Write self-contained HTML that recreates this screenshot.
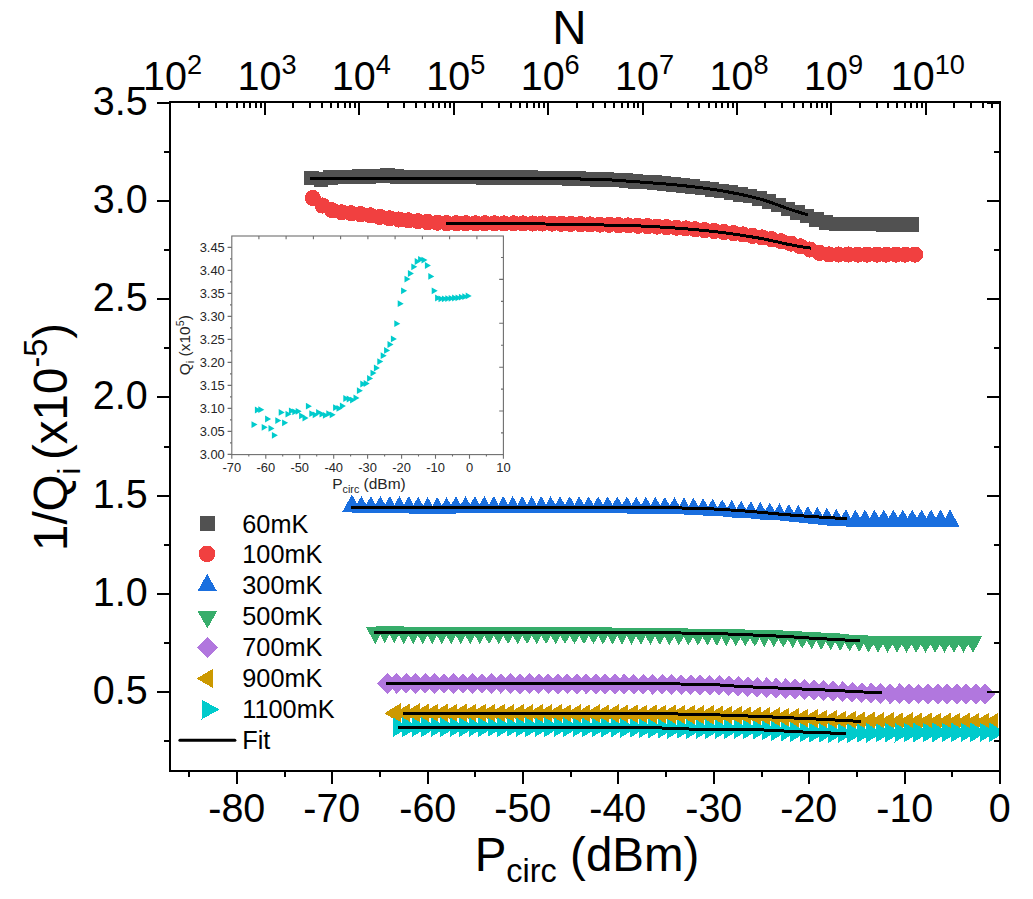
<!DOCTYPE html>
<html lang="en">
<head>
<meta charset="utf-8">
<title>1/Qi vs Pcirc</title>
<style>html,body{margin:0;padding:0;background:#fff}body{width:1033px;height:899px;overflow:hidden}svg{display:block}text{white-space:pre}</style>
</head>
<body>
<svg width="1033" height="899" viewBox="0 0 1033 899" font-family='"Liberation Sans", Arial, sans-serif' fill="#000">
<rect width="1033" height="899" fill="#fff"/>
<defs><clipPath id="fc"><rect x="170" y="102" width="830" height="669"/></clipPath></defs>
<g clip-path="url(#fc)" shape-rendering="crispEdges">
<path d="M304.1 170.8h14.5v14.5h-14.5zM313.6 172.3h14.5v14.5h-14.5zM323.1 170.4h14.5v14.5h-14.5zM332.7 169.9h14.5v14.5h-14.5zM342.2 169.6h14.5v14.5h-14.5zM351.7 169.3h14.5v14.5h-14.5zM361.3 169h14.5v14.5h-14.5zM370.8 168.5h14.5v14.5h-14.5zM380.3 168.4h14.5v14.5h-14.5zM389.9 169.1h14.5v14.5h-14.5zM399.4 169.5h14.5v14.5h-14.5zM408.9 169.6h14.5v14.5h-14.5zM418.5 169.6h14.5v14.5h-14.5zM428 169.7h14.5v14.5h-14.5zM437.5 169.7h14.5v14.5h-14.5zM447.1 169.8h14.5v14.5h-14.5zM456.6 169.9h14.5v14.5h-14.5zM466.1 169.9h14.5v14.5h-14.5zM475.7 170h14.5v14.5h-14.5zM485.2 170.1h14.5v14.5h-14.5zM494.7 170.1h14.5v14.5h-14.5zM504.3 170.2h14.5v14.5h-14.5zM513.8 170.3h14.5v14.5h-14.5zM523.4 170.4h14.5v14.5h-14.5zM532.9 170.6h14.5v14.5h-14.5zM542.4 170.7h14.5v14.5h-14.5zM552 170.9h14.5v14.5h-14.5zM561.5 171.1h14.5v14.5h-14.5zM571 171.4h14.5v14.5h-14.5zM580.6 171.6h14.5v14.5h-14.5zM590.1 172h14.5v14.5h-14.5zM599.6 172.3h14.5v14.5h-14.5zM609.2 172.8h14.5v14.5h-14.5zM618.7 173.4h14.5v14.5h-14.5zM628.2 174h14.5v14.5h-14.5zM637.8 174.7h14.5v14.5h-14.5zM647.3 175.4h14.5v14.5h-14.5zM656.8 176.2h14.5v14.5h-14.5zM666.4 177.1h14.5v14.5h-14.5zM675.9 178.1h14.5v14.5h-14.5zM685.4 179.3h14.5v14.5h-14.5zM695 180.7h14.5v14.5h-14.5zM704.5 182.2h14.5v14.5h-14.5zM714.1 183.7h14.5v14.5h-14.5zM723.6 185.3h14.5v14.5h-14.5zM733.1 187h14.5v14.5h-14.5zM742.7 188.9h14.5v14.5h-14.5zM752.2 191.1h14.5v14.5h-14.5zM761.7 194h14.5v14.5h-14.5zM771.3 197.7h14.5v14.5h-14.5zM780.8 201.5h14.5v14.5h-14.5zM790.3 205.2h14.5v14.5h-14.5zM799.9 208.9h14.5v14.5h-14.5zM809.4 212.3h14.5v14.5h-14.5zM818.9 215.3h14.5v14.5h-14.5zM828.5 216.6h14.5v14.5h-14.5zM838 216.7h14.5v14.5h-14.5zM847.5 216.8h14.5v14.5h-14.5zM857.1 216.8h14.5v14.5h-14.5zM866.6 216.9h14.5v14.5h-14.5zM876.1 217h14.5v14.5h-14.5zM885.7 217.1h14.5v14.5h-14.5zM895.2 217.3h14.5v14.5h-14.5zM904.8 217.4h14.5v14.5h-14.5z" fill="#515151"/>
<path d="M304.8 198.1a8.1 8.1 0 1 0 16.2 0a8.1 8.1 0 1 0 -16.2 0zM314.4 205.6a8.1 8.1 0 1 0 16.2 0a8.1 8.1 0 1 0 -16.2 0zM323.9 210.2a8.1 8.1 0 1 0 16.2 0a8.1 8.1 0 1 0 -16.2 0zM333.5 212.3a8.1 8.1 0 1 0 16.2 0a8.1 8.1 0 1 0 -16.2 0zM343 213.3a8.1 8.1 0 1 0 16.2 0a8.1 8.1 0 1 0 -16.2 0zM352.6 214.1a8.1 8.1 0 1 0 16.2 0a8.1 8.1 0 1 0 -16.2 0zM362.1 215.3a8.1 8.1 0 1 0 16.2 0a8.1 8.1 0 1 0 -16.2 0zM371.7 216.9a8.1 8.1 0 1 0 16.2 0a8.1 8.1 0 1 0 -16.2 0zM381.3 218.3a8.1 8.1 0 1 0 16.2 0a8.1 8.1 0 1 0 -16.2 0zM390.8 219.5a8.1 8.1 0 1 0 16.2 0a8.1 8.1 0 1 0 -16.2 0zM400.4 220.4a8.1 8.1 0 1 0 16.2 0a8.1 8.1 0 1 0 -16.2 0zM409.9 221.2a8.1 8.1 0 1 0 16.2 0a8.1 8.1 0 1 0 -16.2 0zM419.5 222a8.1 8.1 0 1 0 16.2 0a8.1 8.1 0 1 0 -16.2 0zM429 222.7a8.1 8.1 0 1 0 16.2 0a8.1 8.1 0 1 0 -16.2 0zM438.6 223.1a8.1 8.1 0 1 0 16.2 0a8.1 8.1 0 1 0 -16.2 0zM448.2 223.2a8.1 8.1 0 1 0 16.2 0a8.1 8.1 0 1 0 -16.2 0zM457.7 223.2a8.1 8.1 0 1 0 16.2 0a8.1 8.1 0 1 0 -16.2 0zM467.3 223.3a8.1 8.1 0 1 0 16.2 0a8.1 8.1 0 1 0 -16.2 0zM476.8 223.3a8.1 8.1 0 1 0 16.2 0a8.1 8.1 0 1 0 -16.2 0zM486.4 223.3a8.1 8.1 0 1 0 16.2 0a8.1 8.1 0 1 0 -16.2 0zM495.9 223.4a8.1 8.1 0 1 0 16.2 0a8.1 8.1 0 1 0 -16.2 0zM505.5 223.4a8.1 8.1 0 1 0 16.2 0a8.1 8.1 0 1 0 -16.2 0zM515.1 223.4a8.1 8.1 0 1 0 16.2 0a8.1 8.1 0 1 0 -16.2 0zM524.6 223.5a8.1 8.1 0 1 0 16.2 0a8.1 8.1 0 1 0 -16.2 0zM534.2 223.5a8.1 8.1 0 1 0 16.2 0a8.1 8.1 0 1 0 -16.2 0zM543.7 223.6a8.1 8.1 0 1 0 16.2 0a8.1 8.1 0 1 0 -16.2 0zM553.3 223.8a8.1 8.1 0 1 0 16.2 0a8.1 8.1 0 1 0 -16.2 0zM562.8 223.9a8.1 8.1 0 1 0 16.2 0a8.1 8.1 0 1 0 -16.2 0zM572.4 224.1a8.1 8.1 0 1 0 16.2 0a8.1 8.1 0 1 0 -16.2 0zM582 224.4a8.1 8.1 0 1 0 16.2 0a8.1 8.1 0 1 0 -16.2 0zM591.5 224.6a8.1 8.1 0 1 0 16.2 0a8.1 8.1 0 1 0 -16.2 0zM601.1 224.8a8.1 8.1 0 1 0 16.2 0a8.1 8.1 0 1 0 -16.2 0zM610.6 225.1a8.1 8.1 0 1 0 16.2 0a8.1 8.1 0 1 0 -16.2 0zM620.2 225.4a8.1 8.1 0 1 0 16.2 0a8.1 8.1 0 1 0 -16.2 0zM629.7 225.8a8.1 8.1 0 1 0 16.2 0a8.1 8.1 0 1 0 -16.2 0zM639.3 226.2a8.1 8.1 0 1 0 16.2 0a8.1 8.1 0 1 0 -16.2 0zM648.9 226.6a8.1 8.1 0 1 0 16.2 0a8.1 8.1 0 1 0 -16.2 0zM658.4 227.2a8.1 8.1 0 1 0 16.2 0a8.1 8.1 0 1 0 -16.2 0zM668 227.7a8.1 8.1 0 1 0 16.2 0a8.1 8.1 0 1 0 -16.2 0zM677.5 228.4a8.1 8.1 0 1 0 16.2 0a8.1 8.1 0 1 0 -16.2 0zM687.1 229.2a8.1 8.1 0 1 0 16.2 0a8.1 8.1 0 1 0 -16.2 0zM696.6 230.1a8.1 8.1 0 1 0 16.2 0a8.1 8.1 0 1 0 -16.2 0zM706.2 231a8.1 8.1 0 1 0 16.2 0a8.1 8.1 0 1 0 -16.2 0zM715.8 232.1a8.1 8.1 0 1 0 16.2 0a8.1 8.1 0 1 0 -16.2 0zM725.3 233.2a8.1 8.1 0 1 0 16.2 0a8.1 8.1 0 1 0 -16.2 0zM734.9 234.4a8.1 8.1 0 1 0 16.2 0a8.1 8.1 0 1 0 -16.2 0zM744.4 235.8a8.1 8.1 0 1 0 16.2 0a8.1 8.1 0 1 0 -16.2 0zM754 237.4a8.1 8.1 0 1 0 16.2 0a8.1 8.1 0 1 0 -16.2 0zM763.5 239.2a8.1 8.1 0 1 0 16.2 0a8.1 8.1 0 1 0 -16.2 0zM773.1 241.2a8.1 8.1 0 1 0 16.2 0a8.1 8.1 0 1 0 -16.2 0zM782.7 243.6a8.1 8.1 0 1 0 16.2 0a8.1 8.1 0 1 0 -16.2 0zM792.2 246.3a8.1 8.1 0 1 0 16.2 0a8.1 8.1 0 1 0 -16.2 0zM801.8 249.5a8.1 8.1 0 1 0 16.2 0a8.1 8.1 0 1 0 -16.2 0zM811.3 252.9a8.1 8.1 0 1 0 16.2 0a8.1 8.1 0 1 0 -16.2 0zM820.9 254.5a8.1 8.1 0 1 0 16.2 0a8.1 8.1 0 1 0 -16.2 0zM830.4 254.5a8.1 8.1 0 1 0 16.2 0a8.1 8.1 0 1 0 -16.2 0zM840 254.5a8.1 8.1 0 1 0 16.2 0a8.1 8.1 0 1 0 -16.2 0zM849.6 254.6a8.1 8.1 0 1 0 16.2 0a8.1 8.1 0 1 0 -16.2 0zM859.1 254.6a8.1 8.1 0 1 0 16.2 0a8.1 8.1 0 1 0 -16.2 0zM868.7 254.6a8.1 8.1 0 1 0 16.2 0a8.1 8.1 0 1 0 -16.2 0zM878.2 254.6a8.1 8.1 0 1 0 16.2 0a8.1 8.1 0 1 0 -16.2 0zM887.8 254.6a8.1 8.1 0 1 0 16.2 0a8.1 8.1 0 1 0 -16.2 0zM897.3 254.6a8.1 8.1 0 1 0 16.2 0a8.1 8.1 0 1 0 -16.2 0zM906.9 254.6a8.1 8.1 0 1 0 16.2 0a8.1 8.1 0 1 0 -16.2 0z" fill="#F14040"/>
<path d="M351.9 494.5L361.3 511.5H342.5zM361.4 496L370.8 513H352zM370.9 496L380.3 513H361.5zM380.4 496L389.8 513H371zM389.8 496.1L399.2 513.1H380.4zM399.3 496.1L408.7 513.1H389.9zM408.8 496.1L418.2 513.1H399.4zM418.2 496.6L427.6 513.6H408.8zM427.7 497.1L437.1 514.1H418.3zM437.2 497.1L446.6 514.1H427.8zM446.6 497.1L456 514.1H437.2zM456 496.2L465.4 513.2H446.6zM465.5 496.2L474.9 513.2H456.1zM474.9 496.1L484.3 513.1H465.5zM484.3 496.1L493.7 513.1H474.9zM493.8 496.1L503.2 513.1H484.4zM503.2 496.1L512.6 513.1H493.8zM512.7 496.1L522.1 513.1H503.3zM522.2 496.1L531.6 513.1H512.8zM531.7 496.1L541.1 513.1H522.3zM541.2 496.1L550.6 513.1H531.8zM550.6 496.2L560 513.2H541.2zM560.1 496.2L569.5 513.2H550.7zM569.7 496.2L579.1 513.2H560.3zM579.2 496.2L588.6 513.2H569.8zM588.7 496.3L598.1 513.3H579.3zM598.2 496.3L607.6 513.3H588.8zM607.7 496.3L617.1 513.3H598.3zM617.3 496.4L626.7 513.4H607.9zM626.8 496.4L636.2 513.4H617.4zM636.3 496.5L645.7 513.5H626.9zM645.8 496.6L655.2 513.6H636.4zM655.4 496.7L664.8 513.7H646zM664.9 496.9L674.3 513.9H655.5zM674.5 497.1L683.9 514.1H665.1zM684 497.4L693.4 514.4H674.6zM693.5 497.7L702.9 514.7H684.1zM703.1 498.1L712.5 515.1H693.7zM712.6 498.6L722 515.6H703.2zM722.2 499.3L731.6 516.3H712.8zM731.7 499.9L741.1 516.9H722.3zM741.2 500.6L750.6 517.6H731.8zM750.8 501.2L760.2 518.2H741.4zM760.3 501.8L769.7 518.8H750.9zM769.8 502.5L779.2 519.5H760.4zM779.4 503.2L788.8 520.2H770zM788.9 503.9L798.3 520.9H779.5zM798.4 504.8L807.8 521.8H789zM807.9 505.8L817.3 522.8H798.5zM817.4 506.8L826.8 523.8H808zM826.9 507.7L836.3 524.7H817.5zM836.4 508.7L845.8 525.7H827zM845.9 509.2L855.3 526.2H836.5zM855.4 509.5L864.8 526.5H846zM864.9 509.5L874.3 526.5H855.5zM874.4 509.5L883.8 526.5H865zM883.8 509.5L893.2 526.5H874.4zM893.3 509.5L902.7 526.5H883.9zM902.8 509.5L912.2 526.5H893.4zM912.2 509.5L921.6 526.5H902.8zM921.7 509.5L931.1 526.5H912.3zM931.1 509.5L940.5 526.5H921.7zM940.6 509.5L950 526.5H931.2zM950 509.5L959.4 526.5H940.6z" fill="#1A6FDF"/>
<path d="M375.3 644L384.7 627H365.9zM384.8 643.2L394.2 626.2H375.4zM394.3 643.2L403.7 626.2H384.9zM403.8 644.1L413.2 627.1H394.4zM413.2 644.1L422.6 627.1H403.8zM422.7 644.1L432.1 627.1H413.3zM432.2 644.1L441.6 627.1H422.8zM441.7 644.1L451.1 627.1H432.3zM451.2 644.2L460.6 627.2H441.8zM460.7 644.2L470.1 627.2H451.3zM470.2 644.2L479.6 627.2H460.8zM479.7 644.2L489.1 627.2H470.3zM489.1 644.2L498.5 627.2H479.7zM498.6 644.2L508 627.2H489.2zM508.1 644.2L517.5 627.2H498.7zM517.6 644.2L527 627.2H508.2zM527.1 644.2L536.5 627.2H517.7zM536.6 644.2L546 627.2H527.2zM546.1 644.2L555.5 627.2H536.7zM555.6 644.2L565 627.2H546.2zM565 644.2L574.4 627.2H555.6zM574.5 644.2L583.9 627.2H565.1zM584 644.3L593.4 627.3H574.6zM593.5 644.3L602.9 627.3H584.1zM603 644.4L612.4 627.4H593.6zM612.5 644.5L621.9 627.5H603.1zM622 644.6L631.4 627.6H612.6zM631.5 644.7L640.9 627.7H622.1zM640.9 644.8L650.3 627.8H631.5zM650.4 644.9L659.8 627.9H641zM659.9 645L669.3 628H650.5zM669.4 645.2L678.8 628.2H660zM678.9 645.3L688.3 628.3H669.5zM688.4 645.5L697.8 628.5H679zM697.9 645.6L707.3 628.6H688.5zM707.4 645.7L716.8 628.7H698zM716.8 645.9L726.2 628.9H707.4zM726.3 646.1L735.7 629.1H716.9zM735.8 646.3L745.2 629.3H726.4zM745.3 646.5L754.7 629.5H735.9zM754.8 646.7L764.2 629.7H745.4zM764.3 647L773.7 630H754.9zM773.8 647.3L783.2 630.3H764.4zM783.3 647.6L792.7 630.6H773.9zM792.7 648.1L802.1 631.1H783.3zM802.2 648.7L811.6 631.7H792.8zM811.7 649.3L821.1 632.3H802.3zM821.2 649.9L830.6 632.9H811.8zM830.7 650.4L840.1 633.4H821.3zM840.2 651L849.6 634H830.8zM849.7 651.5L859.1 634.5H840.3zM859.2 652L868.6 635H849.8zM868.6 652.6L878 635.6H859.2zM878.1 652.8L887.5 635.8H868.7zM887.6 652.8L897 635.8H878.2zM897.1 652.8L906.5 635.8H887.7zM906.6 652.9L916 635.9H897.2zM916.1 652.9L925.5 635.9H906.7zM925.6 652.9L935 635.9H916.2zM935.1 652.9L944.5 635.9H925.7zM944.5 652.9L953.9 635.9H935.1zM954 652.9L963.4 635.9H944.6zM963.5 652.9L972.9 635.9H954.1zM973 652.9L982.4 635.9H963.6z" fill="#37AD6B"/>
<path d="M387.3 673L397.6 683.4L387.3 693.8L377 683.4zM396.8 673L407.1 683.4L396.8 693.8L386.5 683.4zM406.2 673L416.5 683.4L406.2 693.8L395.9 683.4zM415.7 673L426 683.4L415.7 693.8L405.4 683.4zM425.2 673L435.5 683.4L425.2 693.8L414.9 683.4zM434.7 673L445 683.4L434.7 693.8L424.4 683.4zM444.1 673.1L454.4 683.5L444.1 693.9L433.8 683.5zM453.6 673.1L463.9 683.5L453.6 693.9L443.3 683.5zM463.1 673.1L473.4 683.5L463.1 693.9L452.8 683.5zM472.6 673.1L482.9 683.5L472.6 693.9L462.3 683.5zM482 673.1L492.3 683.5L482 693.9L471.7 683.5zM491.5 673.2L501.8 683.6L491.5 694L481.2 683.6zM501 673.2L511.3 683.6L501 694L490.7 683.6zM510.5 673.2L520.8 683.6L510.5 694L500.2 683.6zM520 673.3L530.3 683.7L520 694.1L509.7 683.7zM529.4 673.3L539.7 683.7L529.4 694.1L519.1 683.7zM538.9 673.3L549.2 683.7L538.9 694.1L528.6 683.7zM548.4 673.4L558.7 683.8L548.4 694.2L538.1 683.8zM557.9 673.4L568.2 683.8L557.9 694.2L547.6 683.8zM567.4 673.4L577.7 683.8L567.4 694.2L557.1 683.8zM576.8 673.5L587.1 683.9L576.8 694.3L566.5 683.9zM586.3 673.5L596.6 683.9L586.3 694.3L576 683.9zM595.8 673.5L606.1 683.9L595.8 694.3L585.5 683.9zM605.3 673.6L615.6 684L605.3 694.4L595 684zM614.8 673.7L625.1 684.1L614.8 694.5L604.5 684.1zM624.3 673.7L634.6 684.1L624.3 694.5L614 684.1zM633.8 673.8L644.1 684.2L633.8 694.6L623.5 684.2zM643.3 673.9L653.6 684.3L643.3 694.7L633 684.3zM652.7 673.9L663 684.3L652.7 694.7L642.4 684.3zM662.2 674L672.5 684.4L662.2 694.8L651.9 684.4zM671.7 674.1L682 684.5L671.7 694.9L661.4 684.5zM681.2 674.3L691.5 684.7L681.2 695.1L670.9 684.7zM690.7 674.4L701 684.8L690.7 695.2L680.4 684.8zM700.2 674.5L710.5 684.9L700.2 695.3L689.9 684.9zM709.7 674.7L720 685.1L709.7 695.5L699.4 685.1zM719.2 675L729.5 685.4L719.2 695.8L708.9 685.4zM728.7 675.5L739 685.9L728.7 696.3L718.4 685.9zM738.2 676L748.5 686.4L738.2 696.8L727.9 686.4zM747.7 676.5L758 686.9L747.7 697.3L737.4 686.9zM757.2 677L767.5 687.4L757.2 697.8L746.9 687.4zM766.6 677.4L776.9 687.8L766.6 698.2L756.3 687.8zM776.1 677.9L786.4 688.3L776.1 698.7L765.8 688.3zM785.6 678.4L795.9 688.8L785.6 699.2L775.3 688.8zM795.1 678.8L805.4 689.2L795.1 699.6L784.8 689.2zM804.6 679.3L814.9 689.7L804.6 700.1L794.3 689.7zM814.1 679.7L824.4 690.1L814.1 700.5L803.8 690.1zM823.6 680.2L833.9 690.6L823.6 701L813.3 690.6zM833.1 680.8L843.4 691.2L833.1 701.6L822.8 691.2zM842.6 681.4L852.9 691.8L842.6 702.2L832.3 691.8zM852.1 682L862.4 692.4L852.1 702.8L841.8 692.4zM861.6 682.5L871.9 692.9L861.6 703.3L851.3 692.9zM871.1 682.9L881.4 693.3L871.1 703.7L860.8 693.3zM880.6 683.2L890.9 693.6L880.6 704L870.3 693.6zM890.1 683.3L900.4 693.7L890.1 704.1L879.8 693.7zM899.6 683.4L909.9 693.8L899.6 704.2L889.3 693.8zM909.1 683.5L919.4 693.9L909.1 704.3L898.8 693.9zM918.6 683.6L928.9 694L918.6 704.4L908.3 694zM928.2 683.6L938.5 694L928.2 704.4L917.9 694zM937.7 683.6L948 694L937.7 704.4L927.4 694zM947.2 683.6L957.5 694L947.2 704.4L936.9 694zM956.7 683.6L967 694L956.7 704.4L946.4 694zM966.2 683.6L976.5 694L966.2 704.4L955.9 694zM975.7 683.6L986 694L975.7 704.4L965.4 694zM985.2 683.6L995.5 694L985.2 704.4L974.9 694z" fill="#B177DE"/>
<path d="M384.3 713.3L400.5 703.4V723.2zM393.8 713.3L410 703.4V723.2zM403.3 713.3L419.5 703.4V723.2zM412.8 713.4L429 703.5V723.3zM422.2 713.4L438.4 703.5V723.3zM431.7 713.4L447.9 703.5V723.3zM441.2 713.5L457.4 703.6V723.4zM450.7 713.5L466.9 703.6V723.4zM460.2 713.5L476.4 703.6V723.4zM469.7 713.6L485.9 703.7V723.5zM479.1 713.6L495.3 703.7V723.5zM488.6 713.7L504.8 703.8V723.6zM498.1 713.7L514.3 703.8V723.6zM507.6 713.8L523.8 703.9V723.7zM517.1 713.8L533.3 703.9V723.7zM526.6 713.9L542.8 704V723.8zM536 713.9L552.2 704V723.8zM545.5 714L561.7 704.1V723.9zM555 714L571.2 704.1V723.9zM564.5 714.1L580.7 704.2V724zM574 714.1L590.2 704.2V724zM583.5 714.2L599.7 704.3V724.1zM593 714.2L609.2 704.3V724.1zM602.4 714.3L618.6 704.4V724.2zM611.9 714.3L628.1 704.4V724.2zM621.4 714.4L637.6 704.5V724.3zM630.9 714.5L647.1 704.6V724.4zM640.4 714.5L656.6 704.6V724.4zM649.9 714.6L666.1 704.7V724.5zM659.3 714.7L675.5 704.8V724.6zM668.8 714.8L685 704.9V724.7zM678.3 714.9L694.5 705V724.8zM687.8 715L704 705.1V724.9zM697.3 715.1L713.5 705.2V725zM706.8 715.3L723 705.4V725.2zM716.2 715.4L732.4 705.5V725.3zM725.7 715.7L741.9 705.8V725.6zM735.2 716L751.4 706.1V725.9zM744.7 716.3L760.9 706.4V726.2zM754.2 716.6L770.4 706.7V726.5zM763.7 717L779.9 707.1V726.9zM773.1 717.4L789.3 707.5V727.3zM782.6 717.8L798.8 707.9V727.7zM792.1 718.4L808.3 708.5V728.3zM801.6 718.9L817.8 709V728.8zM811.1 719.4L827.3 709.5V729.3zM820.6 719.9L836.8 710V729.8zM830.1 720.4L846.3 710.5V730.3zM839.5 720.8L855.7 710.9V730.7zM849 721.2L865.2 711.3V731.1zM858.5 721.5L874.7 711.6V731.4zM868 721.8L884.2 711.9V731.7zM877.5 722L893.7 712.1V731.9zM887 722.1L903.2 712.2V732zM896.4 722.2L912.6 712.3V732.1zM905.9 722.3L922.1 712.4V732.2zM915.4 722.4L931.6 712.5V732.3zM924.9 722.5L941.1 712.6V732.4zM934.4 722.6L950.6 712.7V732.5zM943.9 722.6L960.1 712.7V732.5zM953.3 722.7L969.5 712.8V732.6zM962.8 722.7L979 712.8V732.6zM972.3 722.8L988.5 712.9V732.7zM981.8 722.8L998 712.9V732.7z" fill="#CC9900"/>
<path d="M409.1 727.2L392.9 717.3V737.1zM418.6 727.2L402.4 717.3V737.1zM428 727.2L411.8 717.3V737.1zM437.5 727.2L421.3 717.3V737.1zM447 727.2L430.8 717.3V737.1zM456.4 727.2L440.2 717.3V737.1zM465.9 727.2L449.7 717.3V737.1zM475.3 727.2L459.1 717.3V737.1zM484.8 727.2L468.6 717.3V737.1zM494.3 727.2L478.1 717.3V737.1zM503.7 727.2L487.5 717.3V737.1zM513.2 727.2L497 717.3V737.1zM522.7 727.2L506.5 717.3V737.1zM532.1 727.2L515.9 717.3V737.1zM541.6 727.2L525.4 717.3V737.1zM551.1 727.2L534.9 717.3V737.1zM560.5 727.2L544.3 717.3V737.1zM570 727.2L553.8 717.3V737.1zM579.4 727.2L563.2 717.3V737.1zM588.9 727.3L572.7 717.4V737.2zM598.4 727.4L582.2 717.5V737.3zM607.8 727.5L591.6 717.6V737.4zM617.3 727.6L601.1 717.7V737.5zM626.8 727.8L610.6 717.9V737.7zM636.2 728L620 718.1V737.9zM645.7 728.1L629.5 718.2V738zM655.2 728.3L639 718.4V738.2zM664.6 728.5L648.4 718.6V738.4zM674.1 728.7L657.9 718.8V738.6zM683.5 728.8L667.3 718.9V738.7zM693 729L676.8 719.1V738.9zM702.5 729.1L686.3 719.2V739zM711.9 729.2L695.7 719.3V739.1zM721.4 729.2L705.2 719.3V739.1zM730.9 729.2L714.7 719.3V739.1zM740.3 729.3L724.1 719.4V739.2zM749.8 729.3L733.6 719.4V739.2zM759.2 729.5L743 719.6V739.4zM768.7 729.9L752.5 720V739.8zM778.2 730.4L762 720.5V740.3zM787.6 731L771.4 721.1V740.9zM797.1 731.6L780.9 721.7V741.5zM806.6 732.1L790.4 722.2V742zM816 732.5L799.8 722.6V742.4zM825.5 732.7L809.3 722.8V742.6zM835 732.9L818.8 723V742.8zM844.4 733.1L828.2 723.2V743zM853.9 733.2L837.7 723.3V743.1zM863.3 733.2L847.1 723.3V743.1zM872.8 733.1L856.6 723.2V743zM882.3 732.9L866.1 723V742.8zM891.7 732.8L875.5 722.9V742.7zM901.2 732.7L885 722.8V742.6zM910.7 732.6L894.5 722.7V742.5zM920.1 732.5L903.9 722.6V742.4zM929.6 732.5L913.4 722.6V742.4zM939.1 732.5L922.9 722.6V742.4zM948.5 732.4L932.3 722.5V742.3zM958 732.4L941.8 722.5V742.3zM967.4 732.4L951.2 722.5V742.3zM976.9 732.3L960.7 722.4V742.2zM986.4 732.3L970.2 722.4V742.2zM995.8 732.3L979.6 722.4V742.2zM1005.3 732.3L989.1 722.4V742.2z" fill="#00CBCC"/>
</g>
<g fill="none" stroke="#000" stroke-width="3" stroke-linecap="butt" stroke-linejoin="round" shape-rendering="crispEdges">
<path d="M310 178.5L316.1 178.5L322.1 178.5L328.2 178.5L334.3 178.5L340.4 178.5L346.4 178.5L352.5 178.5L358.6 178.5L364.7 178.5L370.7 178.5L376.8 178.5L382.9 178.5L389 178.5L395 178.5L401.1 178.5L407.2 178.5L413.2 178.5L419.3 178.5L425.4 178.5L431.5 178.5L437.5 178.5L443.6 178.5L449.7 178.5L455.8 178.5L461.8 178.5L467.9 178.5L474 178.5L480 178.5L486.1 178.5L492.2 178.5L498.3 178.5L504.3 178.5L510.4 178.5L516.5 178.5L522.6 178.5L528.6 178.5L534.7 178.5L540.8 178.5L546.9 178.5L552.9 178.6L559 178.6L565.1 178.7L571.1 178.8L577.2 178.9L583.3 179.1L589.4 179.2L595.4 179.4L601.5 179.5L607.6 179.8L613.7 180.1L619.7 180.5L625.8 181L631.9 181.4L638 181.9L644 182.3L650.1 182.8L656.2 183.2L662.2 183.7L668.3 184.2L674.4 184.8L680.5 185.3L686.5 186L692.6 186.7L698.7 187.4L704.8 188.2L710.8 189.1L716.9 190L723 191L729 192.1L735.1 193.3L741.2 194.5L747.3 195.9L753.3 197.3L759.4 198.8L765.5 200.6L771.6 202.7L777.6 204.9L783.7 207.1L789.8 209.3L795.9 211.2L801.9 213.1L808 214.9"/>
<path d="M446 223.5L452.2 223.5L458.4 223.5L464.6 223.5L470.8 223.5L477 223.5L483.1 223.5L489.3 223.5L495.5 223.5L501.7 223.5L507.9 223.5L514.1 223.6L520.3 223.6L526.5 223.7L532.7 223.8L538.9 223.9L545.1 224L551.3 224.1L557.4 224.2L563.6 224.3L569.8 224.3L576 224.4L582.2 224.6L588.4 224.7L594.6 224.8L600.8 224.9L607 225.1L613.2 225.2L619.4 225.3L625.6 225.5L631.7 225.7L637.9 225.9L644.1 226.1L650.3 226.4L656.5 226.8L662.7 227.2L668.9 227.6L675.1 228L681.3 228.5L687.5 229L693.7 229.5L699.9 230.1L706 230.7L712.2 231.4L718.4 232.1L724.6 232.8L730.8 233.7L737 234.6L743.2 235.5L749.4 236.5L755.6 237.5L761.8 238.6L768 239.9L774.2 241.2L780.3 242.6L786.5 244L792.7 245.2L798.9 246.3L805.1 247.3L811.3 248.2"/>
<path d="M351 507.5L357.1 507.5L363.2 507.5L369.4 507.5L375.5 507.5L381.6 507.5L387.7 507.5L393.8 507.5L400 507.5L406.1 507.5L412.2 507.5L418.3 507.5L424.4 507.5L430.6 507.5L436.7 507.5L442.8 507.5L448.9 507.5L455 507.5L461.2 507.5L467.3 507.5L473.4 507.5L479.5 507.5L485.6 507.5L491.8 507.5L497.9 507.5L504 507.5L510.1 507.5L516.2 507.5L522.4 507.5L528.5 507.5L534.6 507.5L540.7 507.5L546.8 507.5L553 507.5L559.1 507.5L565.2 507.5L571.3 507.5L577.4 507.5L583.6 507.5L589.7 507.5L595.8 507.5L601.9 507.5L608 507.5L614.1 507.5L620.3 507.5L626.4 507.5L632.5 507.5L638.6 507.5L644.7 507.5L650.9 507.5L657 507.6L663.1 507.7L669.2 507.8L675.3 507.9L681.5 508L687.6 508.2L693.7 508.3L699.8 508.5L705.9 508.7L712.1 508.9L718.2 509.3L724.3 509.6L730.4 510L736.5 510.4L742.7 510.8L748.8 511.3L754.9 511.8L761 512.3L767.1 512.9L773.3 513.5L779.4 514.1L785.5 514.6L791.6 515.1L797.7 515.6L803.9 516L810 516.4L816.1 516.8L822.2 517.2L828.3 517.6L834.5 518L840.6 518.4L846.7 518.8"/>
<path d="M374 632.5L380.1 632.5L386.3 632.5L392.4 632.5L398.6 632.5L404.7 632.5L410.9 632.5L417 632.5L423.2 632.5L429.3 632.5L435.5 632.5L441.6 632.5L447.8 632.5L453.9 632.5L460.1 632.5L466.2 632.5L472.3 632.5L478.5 632.5L484.6 632.5L490.8 632.5L496.9 632.5L503.1 632.5L509.2 632.5L515.4 632.5L521.5 632.5L527.7 632.5L533.8 632.5L540 632.5L546.1 632.5L552.3 632.5L558.4 632.5L564.6 632.5L570.7 632.5L576.8 632.5L583 632.5L589.1 632.5L595.3 632.5L601.4 632.5L607.6 632.5L613.7 632.5L619.9 632.6L626 632.6L632.2 632.6L638.3 632.6L644.5 632.6L650.6 632.7L656.8 632.7L662.9 632.8L669 632.8L675.2 632.9L681.3 633L687.5 633.1L693.6 633.3L699.8 633.4L705.9 633.5L712.1 633.6L718.2 633.8L724.4 633.9L730.5 634.1L736.7 634.3L742.8 634.6L749 634.8L755.1 635.1L761.3 635.3L767.4 635.6L773.5 635.9L779.7 636.2L785.8 636.5L792 636.9L798.1 637.3L804.3 637.7L810.4 638.1L816.6 638.5L822.7 638.8L828.9 639.1L835 639.5L841.2 639.8L847.3 640.1L853.5 640.3L859.6 640.6"/>
<path d="M386 683.5L392.1 683.5L398.2 683.5L404.4 683.5L410.5 683.5L416.6 683.5L422.7 683.5L428.8 683.5L435 683.5L441.1 683.5L447.2 683.5L453.3 683.5L459.4 683.5L465.6 683.5L471.7 683.5L477.8 683.5L483.9 683.5L490 683.5L496.2 683.5L502.3 683.5L508.4 683.5L514.5 683.5L520.6 683.5L526.8 683.5L532.9 683.5L539 683.5L545.1 683.5L551.2 683.5L557.4 683.5L563.5 683.5L569.6 683.5L575.7 683.5L581.8 683.5L588 683.5L594.1 683.5L600.2 683.5L606.3 683.5L612.4 683.5L618.6 683.6L624.7 683.6L630.8 683.6L636.9 683.6L643 683.6L649.1 683.6L655.3 683.7L661.4 683.7L667.5 683.8L673.6 683.9L679.7 684L685.9 684.1L692 684.2L698.1 684.3L704.2 684.4L710.3 684.6L716.5 684.8L722.6 685.2L728.7 685.6L734.8 686.1L740.9 686.4L747.1 686.7L753.2 687L759.3 687.3L765.4 687.5L771.5 687.8L777.7 688L783.8 688.3L789.9 688.5L796 688.7L802.1 689L808.3 689.2L814.4 689.5L820.5 689.8L826.6 690.1L832.7 690.4L838.9 690.7L845 691L851.1 691.3L857.2 691.7L863.3 692L869.5 692.3L875.6 692.7L881.7 693"/>
<path d="M402.9 713.5L409 713.5L415.1 713.5L421.2 713.5L427.3 713.5L433.4 713.5L439.5 713.5L445.6 713.5L451.7 713.5L457.8 713.5L464 713.5L470.1 713.5L476.2 713.5L482.3 713.5L488.4 713.5L494.5 713.5L500.6 713.5L506.7 713.5L512.8 713.5L518.9 713.5L525 713.5L531.1 713.5L537.2 713.5L543.3 713.5L549.4 713.5L555.5 713.5L561.6 713.5L567.7 713.5L573.8 713.5L580 713.5L586.1 713.5L592.2 713.5L598.3 713.5L604.4 713.5L610.5 713.5L616.6 713.6L622.7 713.6L628.8 713.6L634.9 713.6L641 713.6L647.1 713.6L653.2 713.7L659.3 713.7L665.4 713.8L671.5 713.9L677.6 714L683.7 714.1L689.9 714.2L696 714.4L702.1 714.5L708.2 714.6L714.3 714.8L720.4 715L726.5 715.2L732.6 715.4L738.7 715.6L744.8 715.9L750.9 716.1L757 716.4L763.1 716.6L769.2 716.9L775.3 717.1L781.4 717.4L787.5 717.7L793.6 718L799.7 718.2L805.9 718.5L812 718.8L818.1 719.1L824.2 719.4L830.3 719.7L836.4 720.1L842.5 720.4L848.6 720.7L854.7 721.1L860.8 721.4"/>
<path d="M397.9 727.5L404 727.5L410.2 727.5L416.3 727.5L422.4 727.5L428.6 727.5L434.7 727.5L440.8 727.5L447 727.5L453.1 727.5L459.2 727.5L465.4 727.5L471.5 727.5L477.6 727.5L483.8 727.5L489.9 727.5L496 727.5L502.2 727.5L508.3 727.5L514.4 727.5L520.6 727.5L526.7 727.5L532.8 727.5L539 727.5L545.1 727.5L551.2 727.5L557.4 727.5L563.5 727.5L569.6 727.5L575.8 727.5L581.9 727.5L588 727.5L594.2 727.5L600.3 727.5L606.4 727.5L612.6 727.5L618.7 727.6L624.8 727.6L630.9 727.6L637.1 727.6L643.2 727.6L649.3 727.7L655.5 727.8L661.6 728L667.7 728.2L673.9 728.5L680 728.7L686.1 728.9L692.3 729.1L698.4 729.3L704.5 729.4L710.7 729.4L716.8 729.4L722.9 729.4L729.1 729.4L735.2 729.4L741.3 729.4L747.5 729.5L753.6 729.6L759.7 729.8L765.9 730.1L772 730.4L778.1 730.7L784.3 731L790.4 731.4L796.5 731.7L802.7 732L808.8 732.3L814.9 732.5L821.1 732.7L827.2 732.9L833.3 733.1L839.5 733.3L845.6 733.5"/>
</g>
<path d="M169 741h-5M999 741h-5M169 692h-12M999 692h-12M169 643h-5M999 643h-5M169 594h-12M999 594h-12M169 545h-5M999 545h-5M169 496h-12M999 496h-12M169 447h-5M999 447h-5M169 397h-12M999 397h-12M169 348h-5M999 348h-5M169 299h-12M999 299h-12M169 250h-5M999 250h-5M169 201h-12M999 201h-12M169 152h-5M999 152h-5M169 103h-12M999 103h-12M189 772v5M237 772v12M285 772v5M332 772v12M380 772v5M428 772v12M475 772v5M523 772v12M571 772v5M618 772v12M666 772v5M714 772v12M762 772v5M809 772v12M857 772v5M905 772v12M952 772v5M1000 772v12M199 103v5M216 103v5M227 103v5M237 103v5M244 103v5M250 103v5M256 103v5M261 103v5M265 103v12M293 103v5M310 103v5M322 103v5M331 103v5M338 103v5M345 103v5M350 103v5M355 103v5M359 103v12M388 103v5M404 103v5M416 103v5M425 103v5M433 103v5M439 103v5M445 103v5M450 103v5M454 103v12M482 103v5M499 103v5M511 103v5M520 103v5M527 103v5M534 103v5M539 103v5M544 103v5M548 103v12M577 103v5M593 103v5M605 103v5M614 103v5M622 103v5M628 103v5M634 103v5M638 103v5M643 103v12M671 103v5M688 103v5M699 103v5M709 103v5M716 103v5M722 103v5M728 103v5M733 103v5M737 103v12M765 103v5M782 103v5M794 103v5M803 103v5M811 103v5M817 103v5M822 103v5M827 103v5M831 103v12M860 103v5M877 103v5M888 103v5M897 103v5M905 103v5M911 103v5M917 103v5M922 103v5M926 103v12M954 103v5M971 103v5M983 103v5M992 103v5" stroke="#000" stroke-width="2" fill="none" shape-rendering="crispEdges"/>
<rect x="170" y="102" width="830" height="669" fill="none" stroke="#000" stroke-width="2" shape-rendering="crispEdges"/>
<text transform="translate(147.6 703.6) scale(1 1.035)" font-size="39.5" text-anchor="end">0.5</text>
<text transform="translate(147.6 605.6) scale(1 1.035)" font-size="39.5" text-anchor="end">1.0</text>
<text transform="translate(147.6 507.6) scale(1 1.035)" font-size="39.5" text-anchor="end">1.5</text>
<text transform="translate(147.6 408.6) scale(1 1.035)" font-size="39.5" text-anchor="end">2.0</text>
<text transform="translate(147.6 310.6) scale(1 1.035)" font-size="39.5" text-anchor="end">2.5</text>
<text transform="translate(147.6 212.6) scale(1 1.035)" font-size="39.5" text-anchor="end">3.0</text>
<text transform="translate(147.6 114.6) scale(1 1.035)" font-size="39.5" text-anchor="end">3.5</text>
<text transform="translate(236.8 821.5) scale(1 1.035)" font-size="39.5" text-anchor="middle">-80</text>
<text transform="translate(331.8 821.5) scale(1 1.035)" font-size="39.5" text-anchor="middle">-70</text>
<text transform="translate(427.8 821.5) scale(1 1.035)" font-size="39.5" text-anchor="middle">-60</text>
<text transform="translate(522.8 821.5) scale(1 1.035)" font-size="39.5" text-anchor="middle">-50</text>
<text transform="translate(617.8 821.5) scale(1 1.035)" font-size="39.5" text-anchor="middle">-40</text>
<text transform="translate(713.8 821.5) scale(1 1.035)" font-size="39.5" text-anchor="middle">-30</text>
<text transform="translate(808.8 821.5) scale(1 1.035)" font-size="39.5" text-anchor="middle">-20</text>
<text transform="translate(904.8 821.5) scale(1 1.035)" font-size="39.5" text-anchor="middle">-10</text>
<text transform="translate(999.8 821.5) scale(1 1.035)" font-size="39.5" text-anchor="middle">0</text>
<text transform="translate(172.6 90) scale(1 1.035)" font-size="39.5" text-anchor="middle">10<tspan font-size="27.2" dy="-15">2</tspan></text>
<text transform="translate(267 90) scale(1 1.035)" font-size="39.5" text-anchor="middle">10<tspan font-size="27.2" dy="-15">3</tspan></text>
<text transform="translate(361.4 90) scale(1 1.035)" font-size="39.5" text-anchor="middle">10<tspan font-size="27.2" dy="-15">4</tspan></text>
<text transform="translate(455.8 90) scale(1 1.035)" font-size="39.5" text-anchor="middle">10<tspan font-size="27.2" dy="-15">5</tspan></text>
<text transform="translate(550.2 90) scale(1 1.035)" font-size="39.5" text-anchor="middle">10<tspan font-size="27.2" dy="-15">6</tspan></text>
<text transform="translate(644.6 90) scale(1 1.035)" font-size="39.5" text-anchor="middle">10<tspan font-size="27.2" dy="-15">7</tspan></text>
<text transform="translate(739.1 90) scale(1 1.035)" font-size="39.5" text-anchor="middle">10<tspan font-size="27.2" dy="-15">8</tspan></text>
<text transform="translate(833.5 90) scale(1 1.035)" font-size="39.5" text-anchor="middle">10<tspan font-size="27.2" dy="-15">9</tspan></text>
<text transform="translate(927.9 90) scale(1 1.035)" font-size="39.5" text-anchor="middle">10<tspan font-size="27.2" dy="-15">10</tspan></text>
<text transform="translate(569.3 44.2) scale(1 1.02)" font-size="47.5" text-anchor="middle">N</text>
<text transform="translate(587 870.8) scale(1 1.02)" font-size="47.5" text-anchor="middle">P<tspan font-size="32.5" dy="10.8">circ</tspan><tspan dy="-10.8"> (dBm)</tspan></text>
<text transform="translate(66.6 551) rotate(-90)" font-size="47.5" text-anchor="start">1/Q<tspan font-size="31" dy="13">i</tspan><tspan dy="-13" dx="-5.6"> (x10</tspan><tspan font-size="32.5" dy="-19.4">-5</tspan><tspan dy="19.4">)</tspan></text>
<g shape-rendering="crispEdges">
<path d="M200.1 516h15v15h-15z" fill="#515151"/>
<path d="M198.7 553.9a8.3 8.3 0 1 0 16.6 0a8.3 8.3 0 1 0 -16.6 0z" fill="#F14040"/>
<path d="M207.2 573.8L216.9 591.2H197.5z" fill="#1A6FDF"/>
<path d="M207.4 628.3L217.4 610.9H197.4z" fill="#37AD6B"/>
<path d="M207.5 636.8L218.1 647.4L207.5 658L196.9 647.4z" fill="#B177DE"/>
<path d="M196.8 678.5L213.2 668.7V688.3z" fill="#CC9900"/>
<path d="M219.3 709.5L201.5 699.5V719.5z" fill="#00CBCC"/>
</g>
<path d="M179.9 740.3H234.9" stroke="#000" stroke-width="3" stroke-linecap="round"/>
<g>
<text transform="translate(242.3 532.6) scale(1 1.035)" font-size="25.3" text-anchor="start">60mK</text>
<text transform="translate(242.3 563.1) scale(1 1.035)" font-size="25.3" text-anchor="start">100mK</text>
<text transform="translate(242.3 593.8) scale(1 1.035)" font-size="25.3" text-anchor="start">300mK</text>
<text transform="translate(242.3 624.8) scale(1 1.035)" font-size="25.3" text-anchor="start">500mK</text>
<text transform="translate(242.3 655.7) scale(1 1.035)" font-size="25.3" text-anchor="start">700mK</text>
<text transform="translate(242.3 686.8) scale(1 1.035)" font-size="25.3" text-anchor="start">900mK</text>
<text transform="translate(242.3 717.9) scale(1 1.035)" font-size="25.3" text-anchor="start">1100mK</text>
<text transform="translate(242.3 748.7) scale(1 1.035)" font-size="25.3" text-anchor="start">Fit</text>
</g>
<rect x="231.8" y="236.0" width="271.6" height="218.6" fill="#fff" stroke="#6e6e6e" stroke-width="1.1"/>
<path d="M231.8 247.4h-4.2M231.8 258.9h-1.8M231.8 270.4h-4.2M231.8 281.9h-1.8M231.8 293.4h-4.2M231.8 304.9h-1.8M231.8 316.4h-4.2M231.8 327.9h-1.8M231.8 339.4h-4.2M231.8 350.9h-1.8M231.8 362.4h-4.2M231.8 373.9h-1.8M231.8 385.4h-4.2M231.8 396.9h-1.8M231.8 408.4h-4.2M231.8 419.9h-1.8M231.8 431.4h-4.2M231.8 442.9h-1.8M231.8 454.4h-4.2M503.4 257.5h-2.4M503.4 279.4h-4.2M503.4 301.4h-2.4M503.4 323.3h-4.2M503.4 345.2h-2.4M503.4 367.2h-4.2M503.4 389.1h-2.4M503.4 411h-4.2M503.4 432.9h-2.4M231.8 454.6v4.2M248.8 454.6v2.0M265.8 454.6v4.2M282.7 454.6v2.0M299.7 454.6v4.2M316.7 454.6v2.0M333.7 454.6v4.2M350.6 454.6v2.0M367.6 454.6v4.2M384.6 454.6v2.0M401.6 454.6v4.2M418.5 454.6v2.0M435.5 454.6v4.2M452.5 454.6v2.0M469.5 454.6v4.2M486.4 454.6v2.0M503.4 454.6v4.2M258.9 236.0v3.2M286.1 236.0v3.2M313.4 236.0v3.2M340.6 236.0v3.2M367.9 236.0v3.2M395.1 236.0v3.2M422.4 236.0v3.2M449.6 236.0v3.2M476.9 236.0v3.2" stroke="#6e6e6e" stroke-width="1.1" fill="none"/>
<g font-size="12.9" fill="#262626">
<text x="224.8" y="251.7" text-anchor="end">3.45</text>
<text x="224.8" y="274.7" text-anchor="end">3.40</text>
<text x="224.8" y="297.7" text-anchor="end">3.35</text>
<text x="224.8" y="320.7" text-anchor="end">3.30</text>
<text x="224.8" y="343.7" text-anchor="end">3.25</text>
<text x="224.8" y="366.7" text-anchor="end">3.20</text>
<text x="224.8" y="389.7" text-anchor="end">3.15</text>
<text x="224.8" y="412.7" text-anchor="end">3.10</text>
<text x="224.8" y="435.7" text-anchor="end">3.05</text>
<text x="224.8" y="458.7" text-anchor="end">3.00</text>
<text x="231.8" y="471.8" text-anchor="middle">-70</text>
<text x="265.8" y="471.8" text-anchor="middle">-60</text>
<text x="299.7" y="471.8" text-anchor="middle">-50</text>
<text x="333.7" y="471.8" text-anchor="middle">-40</text>
<text x="367.6" y="471.8" text-anchor="middle">-30</text>
<text x="401.6" y="471.8" text-anchor="middle">-20</text>
<text x="435.5" y="471.8" text-anchor="middle">-10</text>
<text x="469.5" y="471.8" text-anchor="middle">0</text>
<text x="503.4" y="471.8" text-anchor="middle">10</text>
</g>
<text x="369" y="489.3" font-size="15.5" fill="#262626" text-anchor="middle">P<tspan font-size="10.7" dy="3.5">circ</tspan><tspan dy="-3.5"> (dBm)</tspan></text>
<text transform="translate(190.3 345.2) rotate(-90)" font-size="15.5" fill="#262626" text-anchor="middle">Q<tspan font-size="10.7" dy="3.5">i</tspan><tspan dy="-3.5"> (x10</tspan><tspan font-size="10.7" dy="-6">5</tspan><tspan dy="6">)</tspan></text>
<path d="M257.5 424.6L251.5 421.2V428zM260.9 410L254.9 406.6V413.4zM264.3 409.7L258.3 406.3V413.1zM267.7 427.3L261.7 423.9V430.7zM271.1 419L265.1 415.6V422.4zM274.5 428.4L268.5 425V431.8zM277.9 435.3L271.9 431.9V438.7zM281.3 420.6L275.3 417.2V424zM284.7 412.4L278.7 409V415.8zM288.1 422.8L282.1 419.4V426.2zM291.5 414.2L285.5 410.8V417.6zM294.9 410.8L288.9 407.4V414.2zM298.3 411.8L292.3 408.4V415.2zM301.7 411.3L295.7 407.9V414.7zM305.1 415.8L299.1 412.4V419.2zM308.5 418L302.5 414.6V421.4zM311.9 406.2L305.9 402.8V409.6zM315.3 413.7L309.3 410.3V417.1zM318.7 414.8L312.7 411.4V418.2zM322.1 412.4L316.1 409V415.8zM325.5 414.2L319.5 410.8V417.6zM328.9 415.3L322.9 411.9V418.7zM332.3 413.7L326.3 410.3V417.1zM335.7 414.8L329.7 411.4V418.2zM339.1 407.6L333.1 404.2V411zM342.5 408.4L336.5 405V411.8zM345.9 406L339.9 402.6V409.4zM349.3 398.5L343.3 395.1V401.9zM352.7 399L346.7 395.6V402.4zM356.1 400.1L350.1 396.7V403.5zM359.5 397.9L353.5 394.5V401.3zM362.9 390.7L356.9 387.3V394.1zM366.3 384L360.3 380.6V387.4zM369.7 383.5L363.7 380.1V386.9zM373.1 378.4L367.1 375V381.8zM376.5 373.1L370.5 369.7V376.5zM379.9 368L373.9 364.6V371.4zM383.3 361.6L377.3 358.2V365zM386.7 355.7L380.7 352.3V359.1zM390.1 350.4L384.1 347V353.8zM393.5 344.5L387.5 341.1V347.9zM396.9 338.9L390.9 335.5V342.3zM400.3 323.7L394.3 320.3V327.1zM403.7 303.7L397.7 300.3V307.1zM407.1 290.8L401.1 287.4V294.2zM410.5 279.1L404.5 275.7V282.5zM413.9 273.5L407.9 270.1V276.9zM417.3 266.8L411.3 263.4V270.2zM420.7 261.5L414.7 258.1V264.9zM424.1 259.3L418.1 255.9V262.7zM427.5 260.1L421.5 256.7V263.5zM430.9 265.5L424.9 262.1V268.9zM434.3 276.4L428.3 273V279.8zM437.7 290.8L431.7 287.4V294.2zM441.1 298L435.1 294.6V301.4zM444.5 298.8L438.5 295.4V302.2zM447.9 298.8L441.9 295.4V302.2zM451.3 298.6L445.3 295.2V302zM454.7 298.3L448.7 294.9V301.7zM458.1 298L452.1 294.6V301.4zM461.5 297.8L455.5 294.4V301.2zM464.9 297.2L458.9 293.8V300.6zM468.3 296.7L462.3 293.3V300.1zM471.7 295.9L465.7 292.5V299.3z" fill="#00CBCC"/>
</svg>
</body>
</html>
